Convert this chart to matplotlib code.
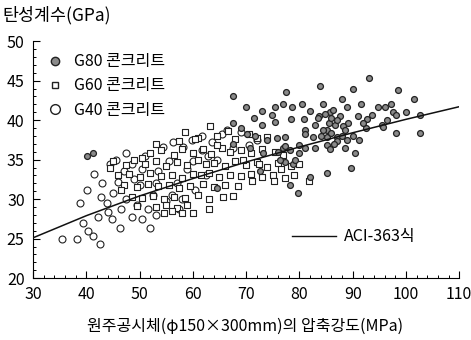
#!/usr/bin/env python3

import matplotlib
matplotlib.use("Agg")
import matplotlib.pyplot as plt
from matplotlib.lines import Line2D
from matplotlib.ticker import MultipleLocator

plt.rcParams["font.family"] = ["Noto Sans CJK KR", "DejaVu Sans"]

# G80 concrete (filled grey dots): compressive strength (MPa), modulus (GPa)
g80_fc = [40.1, 41.3, 64.6, 67.6, 67.6, 67.6, 70.0, 73.0, 75.4, 77.0, 78.6, 80.5, 82.0, 84.5,
          88.0, 89.0, 91.6, 94.8, 96.0, 97.2, 97.6, 93.1, 83.9, 77.5, 90.1, 98.5, 101.5,
          74.9, 78.5, 80.9, 83.7, 85.8, 86.3, 87.7, 89.2, 91.0, 92.7, 93.7, 95.5, 98.2,
          102.7, 102.7, 73.0, 75.4, 81.1, 83.0, 85.2, 85.2, 87.1, 88.2, 83.5, 86.7, 81.1,
          82.6, 87.1, 89.0, 91.2, 88.6, 90.5, 85.2, 83.0, 81.1, 77.0, 77.3, 78.8, 76.4,
          89.6, 70.2, 71.7, 73.9, 75.8, 77.3, 70.8, 73.2, 79.8, 78.3, 85.2, 82.0, 72.6,
          79.2, 84.5, 85.5, 86.0, 87.0, 84.8, 86.5, 85.8, 88.5, 90.0, 92.5, 95.7, 98.2,
          77.3, 78.3, 80.0, 84.0, 86.0, 88.0, 92.0, 96.5, 100.0, 69.0, 71.5, 76.0, 80.0]
g80_E = [35.4, 35.8, 31.4, 43.1, 39.6, 37.0, 41.6, 41.1, 41.6, 42.1, 41.6, 42.1, 41.1, 42.1,
         42.7, 41.6, 42.1, 41.6, 41.6, 42.1, 41.0, 45.3, 44.3, 43.6, 43.9, 43.8, 42.7,
         40.6, 40.1, 40.1, 40.5, 41.0, 41.3, 40.5, 39.7, 40.5, 40.2, 40.7, 39.4, 38.4,
         38.4, 40.6, 39.4, 39.8, 38.8, 39.4, 38.8, 37.9, 37.9, 39.2, 40.3, 39.4, 38.2,
         37.9, 37.3, 37.5, 37.5, 36.5, 35.9, 36.9, 36.5, 36.5, 36.5, 34.7, 34.5, 35.0,
         34.0, 38.2, 38.0, 37.5, 37.7, 37.9, 36.5, 35.9, 30.8, 31.8, 33.3, 32.8, 33.6,
         35.0, 38.8, 39.6, 38.4, 40.0, 40.8, 37.0, 36.3, 38.7, 38.0, 39.0, 39.1, 40.7,
         36.7, 36.2, 36.8, 38.0, 40.3, 38.0, 39.6, 40.0, 41.0, 39.0, 40.3, 36.0, 35.8]

# G60 concrete (open squares)
g60_fc = [58.5, 61.0, 63.2, 64.5, 66.6, 68.0, 70.5, 72.0, 74.0,
          52.0, 54.0, 56.5, 58.0, 60.0, 62.0, 63.5, 65.5, 67.0, 69.0, 71.0, 73.0, 75.5, 77.0,
          45.0, 47.5, 49.0, 51.0, 53.0, 55.0, 57.0, 59.0, 61.0, 62.5, 64.0, 66.0, 68.0, 70.0,
          72.0, 74.0, 76.0, 78.5, 80.0,
          46.0, 48.0, 50.0, 52.0, 54.0, 56.0, 58.0, 60.0, 61.5, 63.0, 65.0, 67.0, 69.0, 71.0,
          73.0, 75.0, 77.3, 79.0,
          47.0, 49.5, 51.5, 53.5, 55.5, 57.5, 59.5, 62.0, 64.0, 66.0, 68.5, 71.1, 75.3, 81.8,
          48.5, 50.5, 52.5, 54.5, 56.5, 58.5, 61.0, 63.0, 65.7, 67.5,
          49.5, 53.0, 55.0, 57.0, 59.0, 63.1, 54.5, 56.0, 58.0, 60.1,
          44.5, 46.5, 50.5, 53.0, 57.5, 60.5, 64.5, 69.5, 72.5, 76.5]
g60_E = [38.5, 37.8, 39.2, 38.0, 38.6, 37.6, 38.3, 37.7, 37.9,
         35.8, 36.2, 35.6, 36.4, 35.9, 36.3, 35.7, 36.5, 36.0, 36.2, 35.8, 36.4, 36.0, 35.6,
         34.8, 34.3, 34.9, 34.4, 34.8, 34.2, 34.7, 34.3, 34.9, 34.4, 34.6, 34.2, 34.8, 34.3,
         34.7, 34.1, 34.6, 34.2, 34.4,
         33.0, 33.2, 32.8, 33.3, 32.9, 33.1, 32.7, 33.2, 33.0, 33.3, 32.8, 33.1, 32.9, 33.2,
         32.8, 33.0, 32.7, 33.1,
         31.8, 31.5, 31.9, 31.6, 31.8, 31.4, 31.7, 31.9, 31.5, 31.8, 31.6, 32.3, 32.3, 32.3,
         30.3, 30.1, 30.4, 30.0, 30.3, 30.2, 30.5, 30.0, 30.3, 30.4,
         29.1, 29.0, 29.3, 28.9, 29.2, 28.8, 28.3, 28.5, 28.2, 28.3,
         34.0, 31.2, 35.2, 37.0, 37.3, 37.6, 36.8, 35.0, 34.5, 33.8]

# G40 concrete (open circles)
g40_fc = [35.5, 38.2, 41.3, 42.6, 39.4, 40.3, 38.8, 40.1, 41.5, 43.9, 44.1, 46.3, 52.0, 45.0,
          42.8, 46.0, 47.5, 48.5, 49.5, 50.5, 51.5, 47.0, 48.5, 50.0, 51.0, 52.5, 53.0, 53.5,
          54.4, 55.0, 55.5, 56.3, 57.0, 57.5, 58.2, 59.0, 59.9, 60.5, 61.7, 61.7, 62.5, 63.6,
          64.5, 65.5, 66.4, 67.5, 44.5, 45.5, 47.5, 43.0, 49.0, 56.0, 58.0, 60.0, 62.8, 69.0,
          70.5, 72.0, 53.0, 50.5, 46.5, 44.8, 42.2]
g40_E = [25.0, 25.0, 25.3, 24.3, 27.0, 26.0, 29.5, 31.1, 33.2, 29.5, 28.4, 26.4, 26.3, 30.8,
         30.3, 32.2, 30.0, 27.8, 29.2, 27.5, 28.8, 33.5, 34.5, 31.8, 35.5, 30.5, 28.0, 33.5,
         36.6, 29.8, 34.8, 37.2, 32.0, 28.8, 36.6, 33.8, 37.5, 31.2, 38.0, 36.2, 33.0, 37.2,
         35.0, 38.2, 38.7, 36.5, 34.5, 35.0, 35.8, 32.0, 32.5, 30.5, 30.0, 34.8, 35.5, 38.5,
         36.8, 37.5, 32.0, 33.8, 28.8, 27.5, 27.8]

# ACI-363 curve
aci_fc = [30, 40, 50, 60, 70, 80, 90, 100, 110]
aci_E = [25.1, 27.9, 30.4, 32.6, 34.7, 36.6, 38.4, 40.1, 41.7]

fig = plt.figure(figsize=(4.71, 3.40), dpi=100)
ax = fig.add_axes([0.070, 0.182, 0.905, 0.697])

ax.scatter(g40_fc, g40_E, s=25, marker="o", facecolor="white", edgecolor="#222222", linewidth=0.8, zorder=2)
ax.scatter(g60_fc, g60_E, s=18, marker="s", facecolor="white", edgecolor="#222222", linewidth=0.8, zorder=3)
ax.scatter(g80_fc, g80_E, s=18, marker="o", facecolor="#8a8a8a", edgecolor="#222222", linewidth=0.9, zorder=4)
ax.plot(aci_fc, aci_E, color="#111111", linewidth=1.1, zorder=5)

ax.set_xlim(30, 110)
ax.set_ylim(20, 50)
ax.xaxis.set_major_locator(MultipleLocator(10))
ax.xaxis.set_minor_locator(MultipleLocator(2))
ax.yaxis.set_major_locator(MultipleLocator(5))
ax.yaxis.set_minor_locator(MultipleLocator(1))
ax.tick_params(which="major", direction="in", length=5, width=0.8, labelsize=11.5, pad=6)
ax.tick_params(which="minor", direction="in", length=2.5, width=0.7)
ax.spines["top"].set_visible(False)
ax.spines["right"].set_visible(False)

h1 = [
    Line2D([], [], marker="o", linestyle="", markersize=6, markerfacecolor="#8a8a8a", markeredgecolor="#222222"),
    Line2D([], [], marker="s", linestyle="", markersize=5, markerfacecolor="white", markeredgecolor="#222222"),
    Line2D([], [], marker="o", linestyle="", markersize=7, markerfacecolor="white", markeredgecolor="#222222"),
]
leg1 = ax.legend(h1, ["G80 콘크리트", "G60 콘크리트", "G40 콘크리트"], loc="upper left",
                 bbox_to_anchor=(0.0, 1.01), frameon=False, fontsize=11.5,
                 handletextpad=0.7, labelspacing=0.45, handlelength=1.0)
ax.add_artist(leg1)
h2 = [Line2D([], [], color="#111111", linewidth=1.0)]
ax.legend(h2, ["ACI-363식"], loc="center left", bbox_to_anchor=(0.575, 0.175), frameon=False,
          fontsize=11.5, handlelength=2.7, handletextpad=0.5)

fig.text(0.006, 0.955, "탄성계수(GPa)", fontsize=12.5, ha="left", va="center")
fig.text(0.52, 0.04, "원주공시체(φ150×300mm)의 압축강도(MPa)", fontsize=11.5, ha="center", va="center")

fig.savefig("out.png", dpi=100)
